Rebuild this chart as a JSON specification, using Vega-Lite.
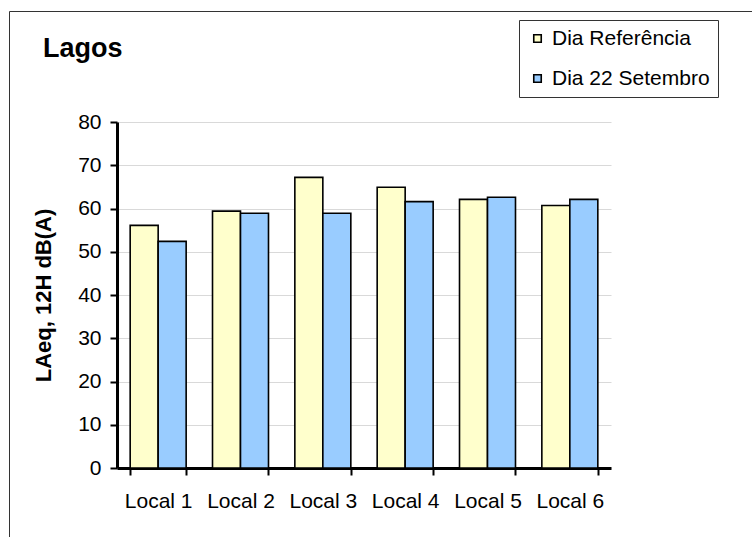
{
  "$schema": "https://vega.github.io/schema/vega-lite/v6.json",
  "width": 743,
  "height": 526,
  "autosize": {"type": "none"},
  "padding": {"left": 9, "top": 11, "right": 0, "bottom": 0},
  "background": "white",
  "title": {
    "text": "Lagos",
    "anchor": "start",
    "frame": "group",
    "orient": "top",
    "font": "Liberation Sans",
    "fontSize": 27,
    "fontWeight": "bold",
    "color": "black",
    "dx": 34,
    "offset": -52
  },
  "config": {
    "font": "Liberation Sans",
    "view": {"stroke": "#333333", "strokeWidth": 1},
    "bar": {"stroke": "black", "strokeWidth": 1.6}
  },
  "data": {
    "values": [
      {"local": "Local 1", "serie": "Dia Referência", "valor": 56.1},
      {"local": "Local 1", "serie": "Dia 22 Setembro", "valor": 52.4},
      {"local": "Local 2", "serie": "Dia Referência", "valor": 59.4},
      {"local": "Local 2", "serie": "Dia 22 Setembro", "valor": 58.9},
      {"local": "Local 3", "serie": "Dia Referência", "valor": 67.2},
      {"local": "Local 3", "serie": "Dia 22 Setembro", "valor": 58.9},
      {"local": "Local 4", "serie": "Dia Referência", "valor": 64.9},
      {"local": "Local 4", "serie": "Dia 22 Setembro", "valor": 61.6},
      {"local": "Local 5", "serie": "Dia Referência", "valor": 62.1},
      {"local": "Local 5", "serie": "Dia 22 Setembro", "valor": 62.6},
      {"local": "Local 6", "serie": "Dia Referência", "valor": 60.7},
      {"local": "Local 6", "serie": "Dia 22 Setembro", "valor": 62.1}
    ]
  },
  "mark": {"type": "bar"},
  "encoding": {
    "x": {
      "field": "local",
      "type": "nominal",
      "sort": ["Local 1", "Local 2", "Local 3", "Local 4", "Local 5", "Local 6"],
      "scale": {"range": [108, 602], "paddingInner": 0.32, "paddingOuter": 0.16},
      "axis": {
        "title": null,
        "orient": "bottom",
        "offset": -69,
        "labelAngle": 0,
        "domainColor": "black",
        "domainWidth": 3,
        "tickColor": "black",
        "tickWidth": 2,
        "tickSize": 7,
        "tickBand": "extent",
        "labelFont": "Liberation Sans",
        "labelFontSize": 21,
        "labelColor": "black",
        "labelPadding": 15,
        "grid": false
      }
    },
    "xOffset": {
      "field": "serie",
      "type": "nominal",
      "sort": ["Dia Referência", "Dia 22 Setembro"],
      "scale": {"paddingInner": 0, "paddingOuter": 0}
    },
    "y": {
      "field": "valor",
      "type": "quantitative",
      "scale": {"domain": [0, 80], "nice": false, "range": [457, 111]},
      "axis": {
        "title": "LAeq, 12H dB(A)",
        "offset": -108,
        "values": [0, 10, 20, 30, 40, 50, 60, 70, 80],
        "grid": true,
        "gridColor": "#d9d9d9",
        "gridWidth": 1,
        "domainColor": "black",
        "domainWidth": 3,
        "tickColor": "black",
        "tickWidth": 2,
        "tickSize": 7,
        "labelFont": "Liberation Sans",
        "labelFontSize": 21,
        "labelColor": "black",
        "labelPadding": 9,
        "titleFont": "Liberation Sans",
        "titleFontSize": 22,
        "titleFontWeight": "bold",
        "titleColor": "black",
        "titlePadding": 22
      }
    },
    "color": {
      "field": "serie",
      "type": "nominal",
      "sort": ["Dia Referência", "Dia 22 Setembro"],
      "scale": {"domain": ["Dia Referência", "Dia 22 Setembro"], "range": ["#FFFFCC", "#99CCFF"]},
      "legend": {
        "title": null,
        "orient": "none",
        "legendX": 510,
        "legendY": 9,
        "strokeColor": "#333333",
        "fillColor": "white",
        "padding": 8,
        "symbolType": "square",
        "symbolSize": 56,
        "symbolStrokeColor": "black",
        "symbolStrokeWidth": 1.5,
        "symbolOpacity": 1,
        "labelFont": "Liberation Sans",
        "labelFontSize": 21,
        "labelColor": "black",
        "labelOffset": 4,
        "rowPadding": 18
      }
    }
  }
}
